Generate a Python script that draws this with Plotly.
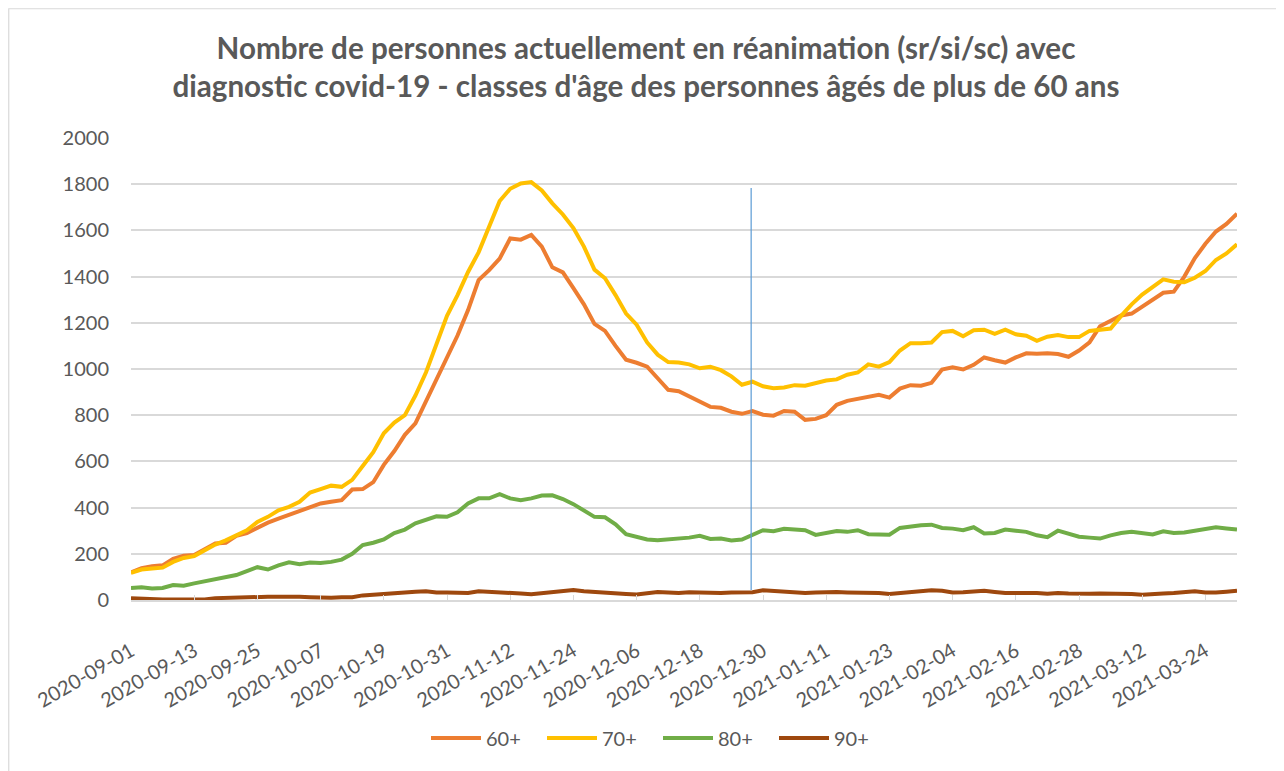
import pandas as pd
import plotly.graph_objects as go

# Dates: every 2 days from 2020-09-01 to 2021-03-30
dates = pd.date_range("2020-09-01", periods=106, freq="2D")

age_60 = [
    120, 138, 146, 150, 178, 192, 195, 220, 245, 248,
    278, 290, 312, 335, 352, 368, 382, 398, 418, 425,
    432, 478, 480, 510, 585, 645, 715, 765, 860, 965,
    1060, 1145, 1255, 1385, 1428, 1478, 1565, 1560, 1580, 1530,
    1440, 1418, 1350, 1280, 1195, 1165, 1100, 1040, 1027, 1010,
    960, 910, 904, 880, 860, 836, 832, 815, 806, 818,
    802, 798, 818, 815, 780, 784, 800, 845, 862, 872,
    880, 888, 876, 915, 930, 928, 940, 998, 1007, 998,
    1018, 1050, 1038, 1028, 1050, 1068, 1066, 1068, 1065, 1053,
    1080, 1115, 1185, 1210, 1232, 1240, 1270, 1295, 1330, 1335,
    1400, 1480, 1542, 1595, 1628, 1672,
]
age_70 = [
    118, 132, 136, 140, 165, 182, 190, 215, 240, 258,
    278, 302, 338, 360, 388, 403, 425, 465, 480, 495,
    490, 520, 580, 640, 722, 768, 800, 885, 985, 1110,
    1230, 1320, 1420, 1505, 1620, 1727, 1780, 1803, 1809, 1773,
    1717, 1669, 1610, 1530, 1430, 1393, 1320, 1240, 1192, 1115,
    1062, 1030, 1028, 1020, 1003, 1010, 995, 968, 932, 945,
    925, 917, 920, 930, 928, 940, 950, 955, 975, 985,
    1020, 1010, 1030, 1080, 1112, 1112, 1115, 1160, 1165, 1142,
    1168, 1170, 1152, 1170, 1150, 1144, 1122, 1140, 1147, 1138,
    1138, 1165, 1168, 1175, 1230, 1280, 1322, 1355, 1388, 1378,
    1376, 1395, 1424, 1472, 1500, 1540,
]
age_80 = [
    52, 55, 50, 52, 65, 62, 72, 82, 92, 100,
    108, 125, 142, 132, 150, 163, 155, 162, 160, 165,
    175, 200, 238, 248, 262, 290, 305, 332, 348, 362,
    360, 380, 418, 440, 440, 458, 440, 432, 440, 452,
    453, 437, 415, 385, 360, 358, 328, 285, 273, 262,
    259, 262, 268, 270, 278, 264, 266, 258, 262, 280,
    302, 298, 308, 305, 302, 282, 290, 299, 295, 302,
    285, 283, 283, 312, 320, 324, 326, 312, 309, 302,
    315, 288, 290, 305, 300, 295, 280, 272, 300, 288,
    274, 270, 266, 280, 290, 295, 290, 284, 297, 290,
    292, 300, 310, 315, 310, 305,
]
age_90 = [
    8, 5, 3, 2, 2, 2, 1, 2, 8, 10,
    10, 10, 13, 14, 14, 15, 14, 12, 10, 10,
    12, 12, 20, 24, 26, 30, 32, 36, 38, 33,
    33, 30, 30, 38, 36, 36, 30, 28, 25, 30,
    33, 37, 43, 38, 34, 32, 28, 26, 24, 30,
    35, 32, 30, 34, 33, 29, 30, 32, 32, 34,
    42, 39, 38, 36, 30, 32, 34, 35, 33, 32,
    35, 30, 26, 30, 33, 38, 42, 40, 33, 34,
    38, 40, 35, 30, 30, 32, 30, 27, 30, 28,
    26, 27, 28, 28, 27, 26, 23, 27, 28, 30,
    35, 38, 33, 32, 36, 40,
]

series_names = ["60+", "70+", "80+", "90+"]
series_values = [age_60, age_70, age_80, age_90]
series_colors = ["#ED7D31", "#FFC000", "#70AD47", "#9E480E"]

title_text = ("Nombre de personnes actuellement en réanimation (sr/si/sc) avec<br>"
              "diagnostic covid-19 - classes d'âge des personnes âgés de plus de 60 ans")

# marker line (drawn shape) position
marker_date = "2020-12-27 18:00"
marker_y = [43, 1784]

FONT = "Lato"
GREY = "#595959"

fig = go.Figure()
for name, vals, col in zip(series_names, series_values, series_colors):
    fig.add_trace(go.Scatter(
        x=dates, y=vals, name=name, mode="lines",
        line=dict(color=col, width=4),
    ))

# The page body adds an 8px offset; figure coordinates below are page - 8.
OFF = 8
W, H = 1284 - OFF, 771 - OFF
L, R, T, B = 131 - OFF, 1237 - OFF, 138 - OFF, 600 - OFF
def px(x):
    return (x - L) / (R - L)
def py(y):
    return (B - y) / (B - T)

fig.add_shape(type="line", xref="x", yref="y",
              x0=marker_date, x1=marker_date, y0=marker_y[0], y1=marker_y[1],
              line=dict(color="#5B9BD5", width=1.2), layer="above")
# chart border
fig.add_shape(type="rect", xref="paper", yref="paper",
              x0=px(0.75), x1=px(1277.5 - OFF), y0=py(800), y1=py(0.75),
              line=dict(color="#D9D9D9", width=1.2), fillcolor="rgba(0,0,0,0)")

fig.update_layout(
    width=W, height=H,
    paper_bgcolor="white", plot_bgcolor="white",
    margin=dict(l=L, r=W - R, t=T, b=H - B, autoexpand=False),
    font=dict(family=FONT, color=GREY, size=20),
    title=dict(text=title_text, x=0.5, xanchor="center", y=1 - (59 - OFF) / H, yanchor="middle",
               font=dict(family=FONT, size=29.6, color=GREY, weight="bold")),
    showlegend=True,
    legend=dict(orientation="h", x=0.5 - 26 / (R - L), xanchor="center", y=py(738 - OFF),
                yanchor="middle",
                font=dict(size=20, color=GREY), itemwidth=50, entrywidth=51,
                traceorder="normal"),
    xaxis=dict(
        type="date", automargin=False,
        range=[dates[0], dates[-1]],
        tick0="2020-09-01", dtick=12 * 86400000,
        tickformat="%Y-%m-%d", tickangle=-30,
        showgrid=False, showline=True, linecolor="#D9D9D9", linewidth=1.5,
        ticks="inside", ticklen=5, tickcolor="#D9D9D9",
        tickfont=dict(size=20, color=GREY),
        ticklabelstandoff=30,
        zeroline=False,
    ),
    yaxis=dict(
        automargin=False,
        range=[0, 2000], dtick=200, tick0=0,
        showgrid=True, gridcolor="#D9D9D9", gridwidth=1.5,
        zeroline=False, showline=False,
        tickfont=dict(size=20, color=GREY),
        ticklabelstandoff=21,
    ),
)

fig.write_html("out.html")
